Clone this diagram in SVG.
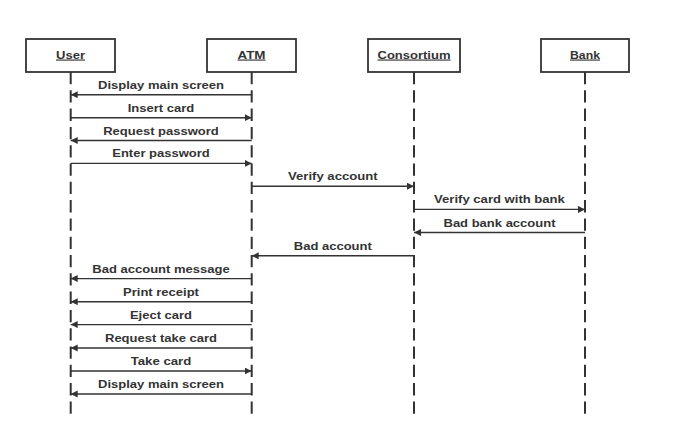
<svg xmlns="http://www.w3.org/2000/svg" width="700" height="442" viewBox="0 0 700 442">
<style>
.box{fill:#fff;stroke:#333;stroke-width:1.8}
.life{stroke:#333;stroke-width:2;stroke-dasharray:12.3 6;fill:none}
.msg{stroke:#333;stroke-width:1.4;fill:none;marker-end:url(#ah)}
.t{font-family:"Liberation Sans",Arial,sans-serif;font-weight:bold;font-size:11.2px;fill:#333;text-anchor:middle}
.h{text-decoration:underline}
</style>
<defs>
<marker id="ah" markerUnits="userSpaceOnUse" markerWidth="8" markerHeight="8" refX="7" refY="3.5" orient="auto">
<path d="M0,0 L7,3.5 L0,7 Z" fill="#333"/>
</marker>
</defs>
<rect width="700" height="442" fill="#fff"/>
<g id="user">
<rect class="box" x="26" y="39" width="89" height="33"/>
<text class="t h" x="70.5" y="58.5" textLength="29" lengthAdjust="spacingAndGlyphs">User</text>
<line class="life" x1="70.7" y1="72" x2="70.7" y2="414"/>
</g>
<g id="atm">
<rect class="box" x="207" y="39" width="89" height="33"/>
<text class="t h" x="251.5" y="58.5" textLength="28" lengthAdjust="spacingAndGlyphs">ATM</text>
<line class="life" x1="251.7" y1="72" x2="251.7" y2="414"/>
</g>
<g id="consortium">
<rect class="box" x="368" y="39" width="92" height="33"/>
<text class="t h" x="414" y="58.5" textLength="73" lengthAdjust="spacingAndGlyphs">Consortium</text>
<line class="life" x1="414" y1="72" x2="414" y2="414"/>
</g>
<g id="bank">
<rect class="box" x="541" y="39" width="88" height="33"/>
<text class="t h" x="585" y="58.5" textLength="30" lengthAdjust="spacingAndGlyphs">Bank</text>
<line class="life" x1="585" y1="72" x2="585" y2="414"/>
</g>
<g id="connectors">
<line class="msg" x1="251.7" y1="94.7" x2="70.7" y2="94.7"/>
<line class="msg" x1="70.7" y1="117.7" x2="251.7" y2="117.7"/>
<line class="msg" x1="251.7" y1="140.5" x2="70.7" y2="140.5"/>
<line class="msg" x1="70.7" y1="163.4" x2="251.7" y2="163.4"/>
<line class="msg" x1="251.7" y1="186.2" x2="414" y2="186.2"/>
<line class="msg" x1="414" y1="209.4" x2="585" y2="209.4"/>
<line class="msg" x1="585" y1="232.5" x2="414" y2="232.5"/>
<line class="msg" x1="414" y1="255.8" x2="251.7" y2="255.8"/>
<line class="msg" x1="251.7" y1="278.6" x2="70.7" y2="278.6"/>
<line class="msg" x1="251.7" y1="301.7" x2="70.7" y2="301.7"/>
<line class="msg" x1="251.7" y1="324.6" x2="70.7" y2="324.6"/>
<line class="msg" x1="251.7" y1="348" x2="70.7" y2="348"/>
<line class="msg" x1="70.7" y1="371" x2="251.7" y2="371"/>
<line class="msg" x1="251.7" y1="394" x2="70.7" y2="394"/>
</g>
<g id="labels">
<text class="t" x="161" y="88.7" textLength="126" lengthAdjust="spacingAndGlyphs">Display main screen</text>
<text class="t" x="161" y="111.7" textLength="66.5" lengthAdjust="spacingAndGlyphs">Insert card</text>
<text class="t" x="161" y="134.5" textLength="115.6" lengthAdjust="spacingAndGlyphs">Request password</text>
<text class="t" x="161" y="157.4" textLength="97.5" lengthAdjust="spacingAndGlyphs">Enter password</text>
<text class="t" x="332.8" y="180.2" textLength="89.6" lengthAdjust="spacingAndGlyphs">Verify account</text>
<text class="t" x="499.5" y="203.4" textLength="130.8" lengthAdjust="spacingAndGlyphs">Verify card with bank</text>
<text class="t" x="499.5" y="226.5" textLength="112" lengthAdjust="spacingAndGlyphs">Bad bank account</text>
<text class="t" x="332.8" y="249.8" textLength="78" lengthAdjust="spacingAndGlyphs">Bad account</text>
<text class="t" x="161" y="272.6" textLength="137.3" lengthAdjust="spacingAndGlyphs">Bad account message</text>
<text class="t" x="161" y="295.7" textLength="75.9" lengthAdjust="spacingAndGlyphs">Print receipt</text>
<text class="t" x="161" y="318.6" textLength="62.1" lengthAdjust="spacingAndGlyphs">Eject card</text>
<text class="t" x="161" y="342" textLength="112" lengthAdjust="spacingAndGlyphs">Request take card</text>
<text class="t" x="161" y="365" textLength="60.7" lengthAdjust="spacingAndGlyphs">Take card</text>
<text class="t" x="161" y="388" textLength="126" lengthAdjust="spacingAndGlyphs">Display main screen</text>
</g>
</svg>
